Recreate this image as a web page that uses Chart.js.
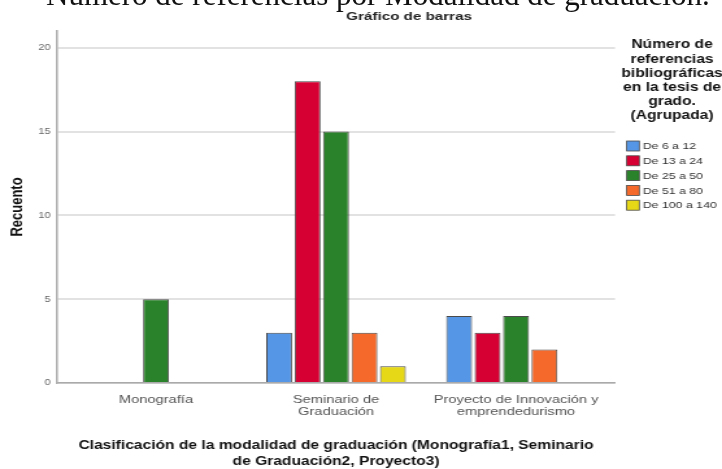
<!DOCTYPE html>
<html>
<head>
<meta charset="utf-8">
<script src="https://cdn.jsdelivr.net/npm/chart.js@4/dist/chart.umd.min.js"></script>
<style>
  html, body { margin: 0; padding: 0; background: #fff; overflow: hidden; }
  #wrap { position: absolute; left: 0; top: 0; width: 556px; height: 469px; transform: scaleX(1.2986); transform-origin: 0 0; }
  #docTitle { position: absolute; left: 46px; top: -21px; font: 31px/31px "Liberation Serif", serif; color: #111; white-space: nowrap; }
</style>
</head>
<body>
<div id="wrap"><canvas id="myChart" width="556" height="469"></canvas></div>
<div id="docTitle">Número de referencias por Modalidad de graduación.</div>
<script>
// chart values
const categories = [['Monografía'], ['Seminario de', 'Graduación'], ['Proyecto de Innovación y', 'emprendedurismo']];
const seriesLabels = ['De 6 a 12', 'De 13 a 24', 'De 25 a 50', 'De 51 a 80', 'De 100 a 140'];
const de6a12 = [null, 3, 4];
const de13a24 = [null, 18, 3];
const de25a50 = [5, 15, 4];
const de51a80 = [null, 3, 2];
const de100a140 = [null, 1, null];
const yTicks = [0, 5, 10, 15, 20];
const legendTitle = ['Número de', 'referencias', 'bibliográficas', 'en la tesis de', 'grado.', '(Agrupada)'];

const seriesValues = [de6a12, de13a24, de25a50, de51a80, de100a140];
const colors = ['#5596e6', '#d70033', '#2a832a', '#f5692a', '#e6d816'];
const FONT = '"Liberation Sans", Arial, sans-serif';

// titles + legend drawn on the canvas
const extras = {
  id: 'extras',
  afterDraw(chart) {
    const ctx = chart.ctx;
    ctx.save();
    ctx.fillStyle = '#222';
    ctx.font = 'bold 11.7px ' + FONT;
    ctx.textAlign = 'center';
    ctx.textBaseline = 'middle';
    ctx.fillText('Gráfico de barras', 315, 17);

    // legend title
    ctx.font = 'bold 12px ' + FONT;
    ctx.fillStyle = '#111';
    legendTitle.forEach((t, i) => ctx.fillText(t, 517.5, 45 + i * 14.2));

    // legend items
    ctx.textAlign = 'left';
    ctx.font = '9.5px ' + FONT;
    chart.data.datasets.forEach((ds, i) => {
      const y = 146 + i * 14.8;
      ctx.fillStyle = ds.backgroundColor;
      ctx.fillRect(482.6, y - 5, 9.7, 10);
      ctx.strokeStyle = '#4a4a4a';
      ctx.lineWidth = 0.8;
      ctx.strokeRect(482.6, y - 5, 9.7, 10);
      ctx.fillStyle = '#333';
      ctx.fillText(ds.label, 494.9, y + 0.5);
    });
    ctx.restore();
  }
};

function createChart() {
  const ctx = document.getElementById('myChart').getContext('2d');
  new Chart(ctx, {
    type: 'bar',
    data: {
      datasets: seriesLabels.map((label, i) => ({
        label: label,
        data: seriesValues[i].map((v, j) => ({ x: j + 1, y: v })),
        backgroundColor: colors[i],
        borderColor: '#4a4a4a',
        borderWidth: 1,
        categoryPercentage: 0.79,
        barPercentage: 0.91
      }))
    },
    options: {
      responsive: false,
      animation: false,
      devicePixelRatio: 1,
      layout: { padding: { top: 31, right: 82.4, bottom: 0, left: 0 } },
      plugins: {
        legend: { display: false },
        tooltip: { enabled: false }
      },
      scales: {
        x: {
          type: 'linear',
          offset: false,
          min: 0.45,
          max: 3.55,
          afterBuildTicks: (scale) => { scale.ticks = categories.map((c, i) => ({ value: i + 1 })); },
          afterFit: (scale) => { scale.height = 86; },
          grid: { display: false, drawTicks: false },
          border: { display: true, color: '#aaa', width: 1.5 },
          ticks: {
            autoSkip: false,
            maxRotation: 0,
            padding: 11,
            color: '#555',
            font: { family: FONT, size: 11.3, lineHeight: 1.08 },
            callback: (value, index) => categories[index]
          },
          title: {
            display: true,
            text: ['Clasificación de la modalidad de graduación (Monografía1, Seminario', 'de Graduación2, Proyecto3)'],
            color: '#111',
            font: { family: FONT, size: 12, weight: 'bold', lineHeight: 1.3 },
            padding: { top: 0, bottom: 0 }
          }
        },
        y: {
          min: 0,
          max: 21,
          afterBuildTicks: (scale) => { scale.ticks = yTicks.map(v => ({ value: v })); },
          afterFit: (scale) => { scale.width = 43.9; },
          grid: { color: '#e2e2e2', lineWidth: 2, drawTicks: false },
          border: { display: true, color: '#b0b0b0', width: 1.6 },
          ticks: {
            padding: 5,
            color: '#666',
            font: { family: FONT, size: 8.5 }
          },
          title: {
            display: true,
            text: 'Recuento',
            color: '#111',
            font: { family: FONT, size: 13, weight: 'bold' },
            padding: { top: 6, bottom: 0 }
          }
        }
      }
    },
    plugins: [extras]
  });
}

createChart();
</script>
</body>
</html>
